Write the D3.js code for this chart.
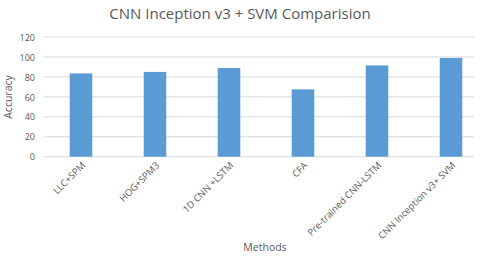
<!DOCTYPE html>
<html><head><meta charset="utf-8">
<script src="https://cdn.jsdelivr.net/npm/d3@7"></script>
<style>body{margin:0;background:#fff;} svg{display:block;}</style>
</head><body>
<script>
const categories = ["LLC+SPM","HOG+SPM3","1D CNN +LSTM","CFA","Pre-trained CNN-LSTM","CNN Inception v3+ SVM"];
const values = [83.5, 85, 89, 67.5, 91.5, 99];
const yTicks = [0,20,40,60,80,100,120];
const title = "CNN Inception v3 + SVM Comparision";
const xTitle = "Methods";
const yTitle = "Accuracy";

const W=480,H=259;
const svg=d3.select("body").append("svg").attr("width",W).attr("height",H);
const font="'Open Sans', 'Liberation Sans', sans-serif";
const grey="#595959";
const plotL=44, plotR=474, y0=156.7, yTop=37;

const x=d3.scaleBand().domain(categories).range([44,488]).paddingInner(0.695).paddingOuter(0.3475);
const y=d3.scaleLinear().domain([0,120]).range([y0,yTop]);

svg.append("g").selectAll("line").data(yTicks).join("line")
  .attr("x1",plotL).attr("x2",plotR)
  .attr("y1",d=>y(d)).attr("y2",d=>y(d))
  .attr("stroke","#d9d9d9").attr("stroke-width",1);

const yAxis=d3.axisLeft(y).tickValues(yTicks).tickSize(0).tickPadding(0);
const gy=svg.append("g").attr("transform",`translate(35,0)`).call(yAxis);
gy.select(".domain").remove();
gy.selectAll("text").attr("fill",grey).style("font-family",font).style("font-size","9px").attr("dy","0.35em");

svg.append("g").selectAll("rect").data(categories).join("rect")
  .attr("x",d=>x(d)).attr("width",x.bandwidth())
  .attr("y",(d,i)=>y(values[i])).attr("height",(d,i)=>y0-y(values[i]))
  .attr("fill","#5B9BD5");

svg.append("g").selectAll("text").data(categories).join("text")
  .attr("transform",d=>`translate(${x(d)+x.bandwidth()/2+5},166) rotate(-45)`)
  .attr("text-anchor","end")
  .attr("fill",grey).style("font-family",font).style("font-size","9.5px")
  .text(d=>d);

svg.append("text").attr("x",240).attr("y",19).attr("text-anchor","middle")
  .attr("fill",grey).style("font-family",font).style("font-size","15px").text(title);

svg.append("text").attr("x",265).attr("y",251).attr("text-anchor","middle")
  .attr("fill",grey).style("font-family",font).style("font-size","10.5px").text(xTitle);

svg.append("text").attr("transform","translate(12,97) rotate(-90)").attr("text-anchor","middle")
  .attr("fill",grey).style("font-family",font).style("font-size","10.5px").text(yTitle);
</script>
</body></html>
